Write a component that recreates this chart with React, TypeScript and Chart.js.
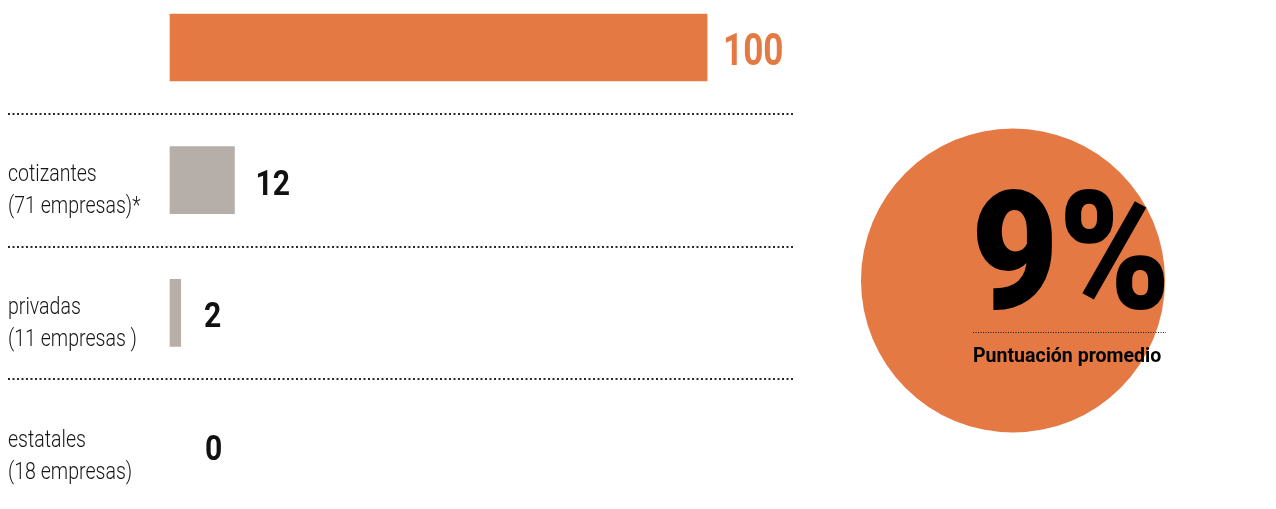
import React, { useEffect, useRef } from "react";
import { Chart, registerables } from "chart.js";

Chart.register(...registerables);

// ---- data ----
const categories = ["total", "cotizantes", "privadas", "estatales"];
const categoryLines: string[][] = [
  [],
  ["cotizantes", "(71 empresas)*"],
  ["privadas", "(11 empresas )"],
  ["estatales", "(18 empresas)"],
];
const values = [100, 12, 2, 0];
const scoreText = "9%";
const scoreCaption = "Puntuación promedio";

// ---- style ----
const ORANGE = "#E47944";
const GRAY = "#B6AEA8";
const barColors = [ORANGE, GRAY, GRAY, GRAY];
const valueColors = [ORANGE, "#111111", "#111111", "#111111"];
const valueSizes = [45, 35, 35, 35];
const valueCondense = [0.78, 0.86, 0.86, 0.86];
const FONT = 'Roboto, "Liberation Sans", sans-serif';

function condensed(ctx: CanvasRenderingContext2D, text: string, x: number, y: number, sx: number) {
  ctx.save();
  ctx.translate(x, y);
  ctx.scale(sx, 1);
  ctx.fillText(text, 0, 0);
  ctx.restore();
}

const overlay = {
  id: "overlay",
  afterDatasetsDraw(chart: any) {
    const ctx: CanvasRenderingContext2D = chart.ctx;
    const xs = chart.scales.x;
    const ys = chart.scales.y;
    const area = chart.chartArea;
    ctx.save();

    // dotted separators between categories
    ctx.strokeStyle = "#2a2a2a";
    ctx.lineWidth = 2;
    ctx.setLineDash([2, 2.5]);
    for (let i = 0; i < categories.length - 1; i++) {
      const y = Math.round((ys.getPixelForValue(i) + ys.getPixelForValue(i + 1)) / 2);
      ctx.beginPath();
      ctx.moveTo(0, y);
      ctx.lineTo(area.right, y);
      ctx.stroke();
    }
    ctx.setLineDash([]);

    // category labels
    ctx.fillStyle = "#161616";
    ctx.font = `300 23px ${FONT}`;
    ctx.textAlign = "left";
    ctx.textBaseline = "alphabetic";
    categoryLines.forEach((lines, i) => {
      const cy = ys.getPixelForValue(i);
      lines.forEach((t, j) => {
        condensed(ctx, t, 0, cy + 1 + j * 32, 0.85);
      });
    });

    // value labels
    const x0 = xs.getPixelForValue(0);
    values.forEach((v, i) => {
      const cy = ys.getPixelForValue(i);
      const end = Math.max(xs.getPixelForValue(v), x0 + 13);
      ctx.fillStyle = valueColors[i];
      ctx.font = `bold ${valueSizes[i]}px ${FONT}`;
      ctx.textBaseline = "alphabetic";
      const gap = v === 0 ? 22 : i === 0 ? 16 : 21;
      condensed(ctx, String(v), end + gap, cy + 2 + valueSizes[i] * 0.355, valueCondense[i]);
    });

    // score circle
    const cx = 1005;
    const ccy = 272.5;
    ctx.fillStyle = ORANGE;
    ctx.beginPath();
    ctx.arc(cx, ccy, 152, 0, Math.PI * 2);
    ctx.fill();

    ctx.fillStyle = "#000000";
    ctx.textBaseline = "alphabetic";
    ctx.font = `900 166px ${FONT}`;
    condensed(ctx, scoreText, 963, 300, 0.91);

    ctx.strokeStyle = "#1a1a1a";
    ctx.lineWidth = 1;
    ctx.setLineDash([1, 1.5]);
    ctx.beginPath();
    ctx.moveTo(965, 324.5);
    ctx.lineTo(1158, 324.5);
    ctx.stroke();
    ctx.setLineDash([]);

    ctx.font = `bold 21px ${FONT}`;
    condensed(ctx, scoreCaption, 965, 354, 0.93);

    ctx.restore();
  },
};

export default function App() {
  const ref = useRef<HTMLCanvasElement | null>(null);
  useEffect(() => {
    if (!ref.current) return;
    const chart = new Chart(ref.current, {
      type: "bar",
      data: {
        labels: categories,
        datasets: [
          {
            data: values,
            backgroundColor: (c: any) => (c.raw === 0 ? "rgba(0,0,0,0)" : barColors[c.dataIndex]),
            borderWidth: 0,
            barThickness: 67,
            clip: false as any,
          },
        ],
      },
      options: {
        indexAxis: "y",
        animation: false,
        responsive: true,
        maintainAspectRatio: false,
        layout: { padding: { left: 162, right: 475, top: 39.5, bottom: 55.5 } },
        scales: {
          x: { min: 0, max: 116, display: false },
          y: { display: false, offset: false },
        },
        plugins: {
          legend: { display: false },
          tooltip: { enabled: false },
        },
      },
      plugins: [overlay],
    });
    return () => chart.destroy();
  }, []);
  return (
    <div style={{ position: "relative", width: 1260, height: 493 }}>
      <canvas ref={ref} />
    </div>
  );
}
